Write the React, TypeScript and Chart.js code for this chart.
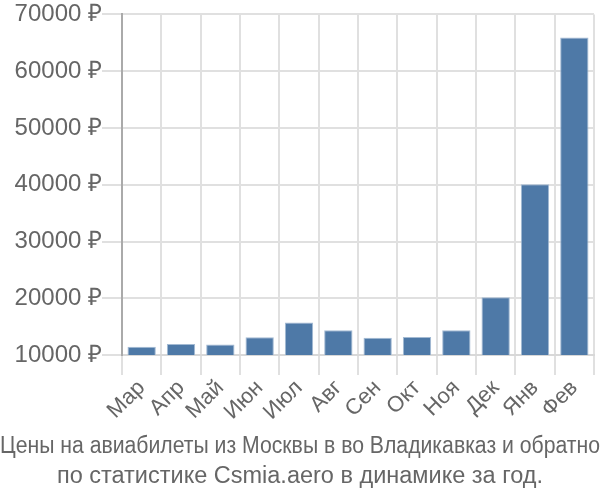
import React, { useEffect, useRef } from "react";
import { Chart, registerables } from "chart.js";

Chart.register(...registerables);

const months = ["Мар", "Апр", "Май", "Июн", "Июл", "Авг", "Сен", "Окт", "Ноя", "Дек", "Янв", "Фев"];
const prices = [11450, 11950, 11850, 13150, 15750, 14350, 13050, 13200, 14350, 20200, 40100, 65950];
const yTicks = [10000, 20000, 30000, 40000, 50000, 60000, 70000];
const titleLines = [
  "Цены на авиабилеты из Москвы в во Владикавказ и обратно",
  "по статистике Csmia.aero в динамике за год.",
];

const FAMILY = "'Liberation Sans', Arial, sans-serif";

export default function App() {
  const ref = useRef<HTMLCanvasElement | null>(null);
  useEffect(() => {
    document.body.style.margin = "0";
    const ctx = ref.current!;
    const chart = new Chart(ctx, {
      type: "bar",
      data: {
        labels: months,
        datasets: [
          {
            data: prices,
            backgroundColor: "#4e79a7",
            borderColor: "#a3bad3",
            borderWidth: 1,
          },
        ],
      },
      options: {
        animation: false,
        responsive: false,
        layout: { padding: { left: 0, right: 0, top: 4, bottom: 3 } },
        font: { family: FAMILY },
        plugins: {
          legend: { display: false },
          tooltip: { enabled: false },
          title: {
            display: true,
            position: "bottom",
            text: titleLines,
            color: "#666",
            font: { size: 23.5, weight: "normal", family: FAMILY, lineHeight: 1.27 },
            padding: { top: 6, bottom: 6 },
          },
        },
        scales: {
          x: {
            grid: { color: "#e0e0e0", lineWidth: 2, tickLength: 20, offset: true },
            border: { color: "#d8d8d8", width: 2 },
            ticks: {
              color: "#666",
              maxRotation: 45,
              minRotation: 45,
              autoSkip: false,
              padding: 0,
              font: { size: 22, family: FAMILY },
            },
          },
          y: {
            min: 10000,
            max: 70000,
            afterBuildTicks: (axis: any) => {
              axis.ticks = yTicks.map((v) => ({ value: v }));
            },
            afterFit: (axis: any) => {
              axis.width = 122;
            },
            grid: { color: "#e0e0e0", lineWidth: 2, tickLength: 20 },
            border: { color: "#aaaaaa", width: 2 },
            ticks: {
              color: "#666",
              padding: 0,
              font: { size: 24, family: FAMILY },
              callback: (v: any) => `${v} ₽`,
            },
          },
          yRight: {
            position: "right",
            display: true,
            grid: { display: false, drawTicks: false },
            border: { display: false },
            ticks: { display: false },
            afterFit: (axis: any) => {
              axis.width = 6;
            },
          },
        },
      },
    });
    return () => chart.destroy();
  }, []);
  return (
    <div style={{ position: "absolute", left: 0, top: 0, width: 600, height: 500 }}>
      <canvas ref={ref} width={600} height={500} />
    </div>
  );
}
